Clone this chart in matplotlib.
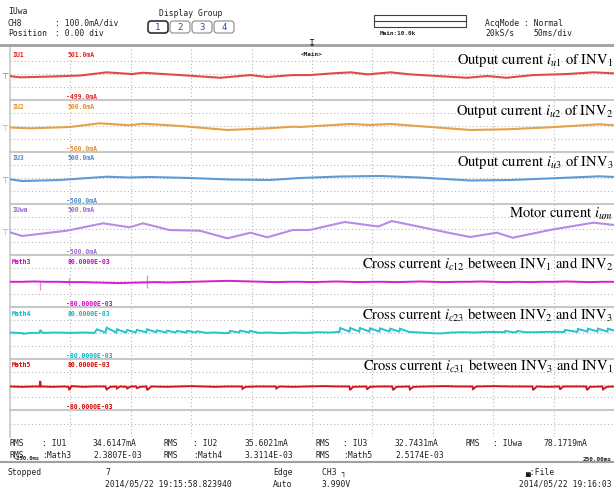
import matplotlib
matplotlib.use("Agg")
import matplotlib.pyplot as plt
from matplotlib.patches import Rectangle, FancyBboxPatch
import numpy as np

plt.rcParams['mathtext.fontset'] = 'stix'

# ---------------- data (time in ms, analog in mA, math in 1E-03) ----------------
iu1_t = [-250, -242, -217, -192, -170, -149, -140, -109, -76, -51, -37, -16, -2, 17, 32,
         46, 65, 81, 100, 128, 145, 161, 183, 211, 233, 250]
iu1_v = [-32, -57, -42, -22, 40, 7, 32, -13, -65, -13, -51, -13, -13, 20, 40,
         1, 40, 1, -26, -65, -32, -65, -13, 7, 40, 20]

iu2_t = [-250, -233, -200, -176, -151, -140, -109, -70, -37, -16, -10, 32, 48, 65, 95,
         131, 161, 197, 238, 250]
iu2_v = [-28, -44, -18, 53, 15, 45, 1, -76, -44, -13, -18, 40, 20, 40, -13,
         -76, -63, -24, 34, 15]

iu3_t = [-250, -240, -209, -170, -151, -134, -101, -68, -35, -10, 23, 56, 89, 131, 164,
         205, 238, 250]
iu3_v = [-30, -63, -44, 20, 5, 15, -5, -34, -44, -5, 24, 34, 5, -53, -44,
         -5, 28, 15]

ium_t = [-250, -240, -203, -173, -151, -140, -118, -93, -70, -51, -37, -16, -2, 27, 55,
         66, 98, 114, 131, 153, 166, 199, 233, 250]
ium_v = [-55, -127, -24, 119, 42, 119, -11, -24, -171, -63, -152, -11, -11, 144, 57,
         163, 9, -69, -146, -63, -160, -1, 131, 86]

m3_t = np.arange(-250, 251, 10)
m3_v = [-2, -2, -1, -2, -2, -3,
        -3, -4, -5, -6, -5,
        -4, -3, -4, -3, -2,
        -1, 0, 1, 0, -1,
        -2, -3, -2, -2, -3,
        -2, -1, -2, -3, -2,
        -2, -3, -2, -1, -2,
        -3, -2, -2, -1, -2,
        -3, -2, -3, -2, -2,
        -1, -2, -3, -2, -2]
m3_spike_t = [-225, -201, -137]
m3_spike_lo = [-27, -12, -21]
m3_spike_hi = [-2, 11, 20]

m4_pts = [(-250, 1), (-244, 0), (-239.5, -1), (-239, -3), (-233, 0), (-225.5, 0), (-225, 9),
          (-223, 0), (-212, 1), (-200, 0), (-190, 1), (-180, 0),
          (-178, 11), (-171, 1), (-170, 16), (-162, 1), (-161.4, 11), (-154, 1), (-153, 9),
          (-146, 1), (-145, 9), (-137.2, 2), (-136.6, 11), (-129, 2), (-128.3, 8), (-121, 1),
          (-120, 7), (-113, 1), (-111.8, 6), (-104, 1), (-103.5, 6), (-96, 1), (-95.2, 5),
          (-88, 0), (-80, 1), (-72, -1), (-68.4, 0), (-67.9, 6), (-60.1, 1), (-59.6, 7),
          (-52, 1), (-51.3, 6), (-44, 0), (-35, 1), (-25, -1), (-15, 1), (-5, 0), (5, 2),
          (15, 1), (22.7, 3), (23.2, 15), (31, 4), (31.5, 15), (39.2, 4), (39.7, 15),
          (47.5, 4), (48, 14), (55.8, 4), (56.3, 14), (64.1, 4), (64.6, 13), (72.3, 4),
          (72.8, 13), (80, 3), (90, 1), (100, -1), (106, -2), (115, 1), (125, 2), (135, 1),
          (145, 3), (159.5, 2), (160, 6), (166, 2), (169.5, 2), (170, 6), (176, 2), (185, 2),
          (195, 3), (209, 3), (209.4, 9), (219.7, 3), (220.2, 12), (228, 4), (228.5, 13),
          (236.3, 4), (236.8, 13), (244.5, 4), (245, 13), (250, 7)]
m4_t = [p[0] for p in m4_pts]
m4_v = [p[1] for p in m4_pts]

m5_pts = [(-250, -6), (-240, -7), (-230, -6), (-225.5, -6), (-225, 11), (-224.5, -6),
          (-215, -7), (-205, -6), (-201.5, -7), (-201, -17), (-199, -5), (-190, -7),
          (-180, -6), (-171, -6), (-170, -15), (-167, -7), (-162, -6), (-161.5, -12),
          (-159, -6), (-153.5, -7), (-153, -12), (-150, -6), (-145.5, -6), (-145, -11),
          (-142, -7), (-137, -6), (-136.5, -17), (-133, -6), (-120, -7), (-110, -6),
          (-100, -5), (-90, -6), (-80, -7), (-70, -6), (-58, -6), (-57.5, -13), (-55, -7),
          (-45, -6), (-30, -6), (-29.5, -12), (-27, -6), (-15, -7), (-5, -6), (10, -5),
          (22, -6), (31, -6), (31.5, -17), (34, -7), (45, -6), (45.5, -15), (48, -7),
          (56, -6), (66.5, -6), (67, -17), (70, -7), (80.5, -6), (81, -15), (84, -7),
          (95, -6), (110, -5), (120, -6), (132.8, -6), (133.3, -14), (136, -6), (150, -5),
          (165, -6), (182.5, -6), (183, -17), (186, -6), (195, -7), (204.8, -6),
          (205.3, -15), (208, -6), (218, -6), (227, -6), (227.6, -17), (230, -7),
          (240.4, -6), (241, -15), (244, -7), (250, -6)]
m5_t = [p[0] for p in m5_pts]
m5_v = [p[1] for p in m5_pts]

channels = [
    dict(name='IU1', hi='501.0mA', lo='-499.0mA', ylim=(-499, 501), t=iu1_t, v=iu1_v,
         color='#e24a4a', lab='#e02828', gnd=True,
         note=r'Output current $i_{u\mathit{1}}$ of INV$_1$'),
    dict(name='IU2', hi='500.0mA', lo='-500.0mA', ylim=(-500, 500), t=iu2_t, v=iu2_v,
         color='#e6a04a', lab='#e09030', gnd=True,
         note=r'Output current $i_{u\mathit{2}}$ of INV$_2$'),
    dict(name='IU3', hi='500.0mA', lo='-500.0mA', ylim=(-500, 500), t=iu3_t, v=iu3_v,
         color='#5b9bd8', lab='#4a8ad0', gnd=True,
         note=r'Output current $i_{u\mathit{3}}$ of INV$_3$'),
    dict(name='IUwa', hi='500.0mA', lo='-500.0mA', ylim=(-500, 500), t=ium_t, v=ium_v,
         color='#b78ae6', lab='#9a6ad0', gnd=True,
         note=r'Motor current $i_{um}$'),
    dict(name='Math3', hi='80.0000E-03', lo='-80.0000E-03', ylim=(-80, 80), t=m3_t, v=m3_v,
         color='#d81fcf', lab='#d000c8', gnd=False,
         note=r'Cross current $i_{c\mathit{12}}$ between INV$_1$ and INV$_2$'),
    dict(name='Math4', hi='80.0000E-03', lo='-80.0000E-03', ylim=(-80, 80), t=m4_t, v=m4_v,
         color='#22c4cf', lab='#00b8c8', gnd=False,
         note=r'Cross current $i_{c\mathit{23}}$ between INV$_2$ and INV$_3$'),
    dict(name='Math5', hi='80.0000E-03', lo='-80.0000E-03', ylim=(-80, 80), t=m5_t, v=m5_v,
         color='#d41414', lab='#d00000', gnd=False,
         note=r'Cross current $i_{c\mathit{31}}$ between INV$_3$ and INV$_1$'),
]

rms_row1 = [('RMS', ': IU1', '34.6147mA'), ('RMS', ': IU2', '35.6021mA'),
            ('RMS', ': IU3', '32.7431mA'), ('RMS', ': IUwa', '78.1719mA')]
rms_row2 = [('RMS', ':Math3', '2.3807E-03'), ('RMS', ':Math4', '3.3114E-03'),
            ('RMS', ':Math5', '2.5174E-03')]

# ---------------- layout ----------------
W, H = 614, 490
LEFT = 10
TOP0 = 48.5
PH = 51.7
GRID_C = '#b8b8b8'
SEP_C = '#c8c8c8'
DOT = (0, (1, 2.2))

fig = plt.figure(figsize=(W / 100, H / 100), dpi=100)
fig.patch.set_facecolor('white')


def panel_axes(top, height):
    ax = fig.add_axes([LEFT / W, 1 - (top + height) / H, (W - LEFT) / W, height / H], zorder=1)
    ax.set_xlim(-250, 250)
    ax.set_xticks([])
    ax.set_yticks([])
    for s in ('right', 'bottom'):
        ax.spines[s].set_visible(False)
    ax.spines['left'].set_color(SEP_C)
    ax.spines['left'].set_linewidth(1.2)
    ax.spines['top'].set_color(SEP_C)
    ax.spines['top'].set_linewidth(1.5)
    for xv in range(-200, 251, 50):
        ax.axvline(xv, color=GRID_C, lw=0.8, ls=DOT, zorder=0)
    return ax


for i, ch in enumerate(channels):
    top = TOP0 + i * PH
    ax = panel_axes(top, PH)
    if i == 0:
        ax.spines['top'].set_visible(False)
    lo, hi = ch['ylim']
    ax.set_ylim(lo, hi)
    span = hi - lo
    for frac in (0.25, 0.5, 0.75):
        ax.axhline(lo + frac * span, color=GRID_C, lw=0.8, ls=DOT, zorder=0)
    lw = 1.5 if i < 4 else 1.4
    ax.plot(ch['t'], ch['v'], color=ch['color'], lw=lw, zorder=3, solid_joinstyle='miter')
    if ch['name'] == 'Math3':
        ax.vlines(m3_spike_t, m3_spike_lo, m3_spike_hi, color=ch['color'], lw=0.9, alpha=0.55, zorder=3)

# extra grid area below last panel
ax = panel_axes(TOP0 + 7 * PH, 437 - (TOP0 + 7 * PH))
ax.set_ylim(0, 1)
ax.axhline(0.5, color=GRID_C, lw=0.8, ls=DOT, zorder=0)

# ---------------- decoration overlay (pixel coordinates) ----------------
deco = fig.add_axes([0, 0, 1, 1], zorder=5)
deco.set_xlim(0, W)
deco.set_ylim(H, 0)
deco.axis('off')
deco.patch.set_alpha(0)

MONO = 'DejaVu Sans Mono'
TXT = '#202020'
FS = 5.8


def t(x, y, s, size=FS, color=TXT, weight='normal', ha='left', va='center', family=MONO):
    deco.text(x, y, s, fontsize=size, color=color, fontweight=weight, ha=ha, va=va,
              fontfamily=family)


# header
t(8, 12, 'IUwa')
t(8, 23, 'CH8')
t(55, 23, ': 100.0mA/div')
t(8, 33, 'Position')
t(55, 33, ': 0.00 div')
t(191, 14, 'Display Group', ha='center')
for k, x0 in enumerate([148, 170, 192, 214]):
    box = FancyBboxPatch((x0, 21), 20, 12, boxstyle='round,pad=0,rounding_size=3',
                         fill=False, ec='#303030' if k == 0 else '#8a8a8a',
                         lw=1.2 if k == 0 else 0.8)
    deco.add_patch(box)
    t(x0 + 10, 27.3, str(k + 1), size=6.5, color='#2a4f9a', ha='center')
deco.add_patch(Rectangle((374, 15), 92, 12, fill=False, ec='#404040', lw=0.8))
deco.plot([374, 466], [21, 21], color='#404040', lw=0.8)
t(380, 33.5, 'Main:10.0k', size=4.3, weight='bold')
t(485, 24, 'AcqMode : Normal')
t(485, 33, '20kS/s')
t(533, 33, '50ms/div')
deco.plot([0, W], [45, 45], color='#a0a0a0', lw=2)
t(312, 43, '\u21a7', size=7, ha='center', family='DejaVu Sans')
t(312, 55, '<Main>', size=4.3, weight='bold', ha='center')

# channel labels and annotations
for i, ch in enumerate(channels):
    top = TOP0 + i * PH
    t(12, top + 6.5, ch['name'], size=4.7, weight='bold', color=ch['lab'])
    t(68, top + 6.5, ch['hi'], size=4.7, weight='bold', color=ch['lab'])
    t(66, top + PH - 3, ch['lo'], size=4.7, weight='bold', color=ch['lab'])
    if ch['gnd']:
        t(5, top + PH / 2 + 2.5, '\u22a4', size=6, color=ch['color'], ha='center',
          family='DejaVu Sans')
    deco.text(613, 64 + 51.2 * i, ch['note'], fontsize=10.5, ha='right', va='baseline',
              fontfamily='STIXGeneral', color='black')

# RMS area
col_x = [(10, 42, 93), (163, 193, 245), (315, 343, 395), (465, 493, 543)]
for (a, b, c), (xa, xb, xc) in zip(rms_row1, col_x):
    t(xa, 443, a)
    t(xb, 443, b)
    t(xc, 443, c)
for (a, b, c), (xa, xb, xc) in zip(rms_row2, col_x):
    t(xa, 455, a)
    t(xb, 455, b)
    t(xc, 455, c)
t(13, 458, '-250.0ms', size=4.0, weight='bold')
t(612, 459, '250.00ms', size=4.3, weight='bold', ha='right')
deco.plot([0, W], [461.7, 461.7], color='#a0a0a0', lw=1.5)

# status bar
t(8, 472, 'Stopped')
t(105, 472, '7')
t(105, 484, '2014/05/22 19:15:58.823940')
t(273, 472, 'Edge')
t(273, 484, 'Auto')
t(322, 472, 'CH3 \u2510')
t(322, 484, '3.990V')
t(525, 472, '\u2584:File')
t(612, 484, '2014/05/22 19:16:03', ha='right')

fig.savefig('out.png', dpi=100, facecolor='white')
